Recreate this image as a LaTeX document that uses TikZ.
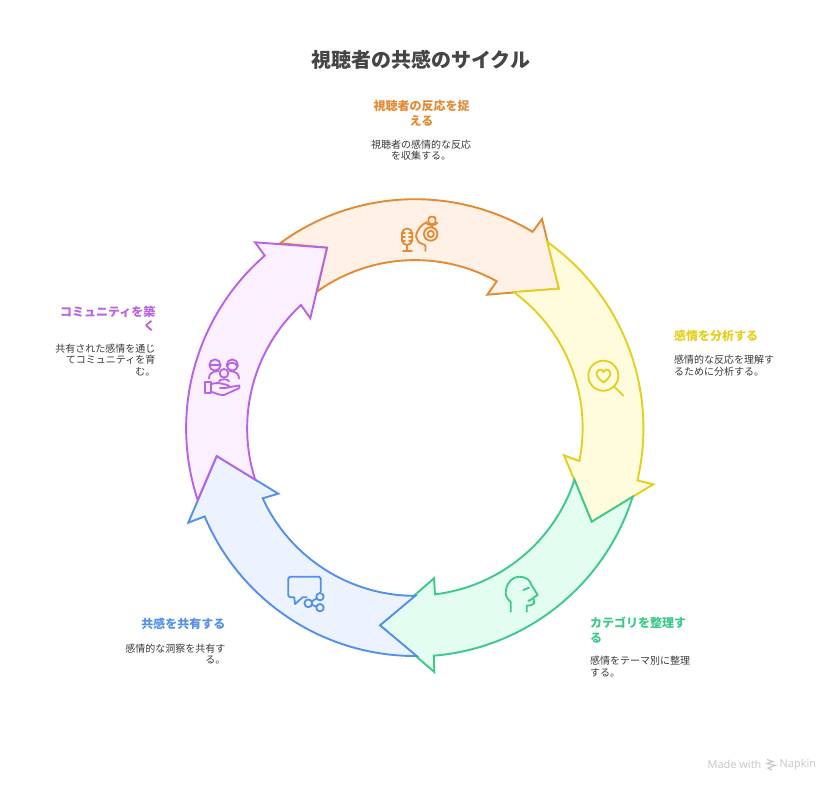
\documentclass[tikz,border=0pt]{standalone}
\usepackage{fontspec}
\setmainfont{Noto Sans}
\newfontfamily\cjk{Noto Sans CJK JP}
\definecolor{oS}{HTML}{E38A33}\definecolor{oF}{HTML}{FFF1E5}
\definecolor{yS}{HTML}{E5CF1C}\definecolor{yF}{HTML}{FFFBDD}
\definecolor{gS}{HTML}{3DC98A}\definecolor{gF}{HTML}{E3FDF0}
\definecolor{bS}{HTML}{5290EA}\definecolor{bF}{HTML}{ECF3FF}
\definecolor{pS}{HTML}{B962E6}\definecolor{pF}{HTML}{FAF0FF}
\definecolor{ink}{HTML}{3A3A3A}
\definecolor{titleink}{HTML}{454545}
\definecolor{wmgray}{HTML}{C9C9C9}
\tikzset{
  band/.style={line width=1.9pt,line join=miter,miter limit=10},
  icon/.style={line width=1.8pt,line cap=round,line join=round},
  headline/.style={inner sep=0pt,font={\cjk\bfseries\fontsize{12}{14.5}\selectfont}},
  blurb/.style={inner sep=0pt,text=ink,font={\cjk\fontsize{10}{11.7}\selectfont}},
}
\begin{document}
\begin{tikzpicture}[x=1pt,y=-1pt]
\useasboundingbox (0,0) rectangle (840,792);
\fill[white] (0,0) rectangle (840,792);
% bands
\draw[band,draw=oS,fill=oF] (280,243.3) arc[start angle=-126.2,end angle=-59,radius=228.5] -- (542,219) -- (559,288.7) -- (487.3,294.7) -- (496.7,281.3) arc[start angle=-60.9,end angle=-125.7,radius=168] -- (327,247.7) -- cycle;
\draw[band,draw=yS,fill=yF] (547.3,242) arc[start angle=-54.6,end angle=13.2,radius=228.5] -- (653.3,484.3) -- (591.7,521.7) -- (564,455.3) -- (579.3,461) arc[start angle=11.4,end angle=-53.9,radius=168] -- (559,288.7) -- cycle;
\draw[band,draw=gS,fill=gF] (632.7,496.7) arc[start angle=17.5,end angle=85.2,radius=228.5] -- (434.3,672) -- (380,625.3) -- (434,578.3) -- (435,594.3) arc[start angle=83.1,end angle=18.1,radius=168] -- (591.7,521.7) -- cycle;
\draw[band,draw=bS,fill=bF] (416.7,656) arc[start angle=89.6,end angle=157.1,radius=228.5] -- (188.3,522.7) -- (216.7,456) -- (278.3,493.7) -- (262.7,498.3) arc[start angle=155.2,end angle=90,radius=168] -- (380,625.3) -- cycle;
\draw[band,draw=pS,fill=pF] (197.7,500) arc[start angle=161.7,end angle=229,radius=228.7] -- (255,242.3) -- (327,247.7) -- (310.3,318.3) -- (301,305) arc[start angle=227.2,end angle=162.2,radius=168] -- (216.7,456) -- cycle;
% mic icon
\begin{scope}[icon,draw=oS]
\draw[rounded corners=5pt] (402,228.5) rectangle (412.2,245);
\draw (402,233) -- (405,233) (402,237) -- (405,237) (402,241) -- (405,241) (412.2,233) -- (409,233) (412.2,237) -- (409,237) (412.2,241) -- (409,241);
\draw (407,245) -- (407,250.7) (403,250.7) -- (412,250.7);
\draw (425.5,251) -- (425.5,246) .. controls (425.5,244) and (419,244) .. (418,241) -- (416,236.5) .. controls (417,229) and (421,225) .. (427,222);
\draw (430.7,234) circle[radius=6.7];
\draw (430.7,234) circle[radius=3.2];
\draw[rounded corners=2.5pt] (428.5,216.7) rectangle (435.5,224);
\draw (425.5,222.5) .. controls (428,226) and (436,226) .. (437.5,222.5);
\draw (431.8,226) -- (431.8,227.3);
\end{scope}
% magnifier
\begin{scope}[icon,draw=yS]
\draw (603.3,375.7) circle[radius=15];
\draw (614.3,386.7) -- (623.3,395.7);
\draw (603.5,382.5) .. controls (597,377.5) and (596,375) .. (597,372) .. controls (598.5,368.5) and (602.5,369) .. (603.5,372) .. controls (604.5,369) and (608.5,368.5) .. (610,372) .. controls (611,375) and (610,377.5) .. (603.5,382.5) -- cycle;
\end{scope}
% head
\begin{scope}[icon,draw=gS]
\draw (510.7,611.7) -- (510.7,602) .. controls (506,598) and (505,594) .. (506,590) .. controls (507,582) and (513,576.7) .. (519,576.7) .. controls (526,576.7) and (530,580) .. (531.5,585) -- (537.7,595) -- (533.3,597.7) -- (534.3,603) .. controls (533,605.5) and (530,605.5) .. (526.7,605.7) -- (526.7,611.7);
\draw (523.3,590) -- (529,587.7);
\draw (528.3,601) -- (533.3,598.3);
\end{scope}
% bubble and share
\begin{scope}[icon,draw=bS]
\draw (306.5,597.3) -- (302.7,597.3) -- (295,604) -- (294.3,597.3) -- (290,597.3) .. controls (289,597.3) and (288.3,596.6) .. (288.3,595.6) -- (288.3,578.5) .. controls (288.3,577.5) and (289,576.7) .. (290,576.7) -- (319,576.7) .. controls (320,576.7) and (320.7,577.5) .. (320.7,578.5) -- (320.7,591.5);
\draw (308.3,603.3) circle[radius=3.9];
\draw (320,596.7) circle[radius=3.7];
\draw (320,607.7) circle[radius=3.7];
\draw (311.6,601.4) -- (316.7,598.4) (311.8,604.8) -- (316.4,606.6);
\end{scope}
% community
\begin{scope}[icon,draw=pS]
\draw (215,365) circle[radius=5.6];
\draw (232.3,365) circle[radius=5.6];
\draw (224,373.3) circle[radius=4.3];
\draw (209.7,365) -- (220.3,365);
\draw (227,366) .. controls (230,361.5) and (234,361.5) .. (237.6,366);
\draw (209,378.5) .. controls (209,373.5) and (212,371.5) .. (218.7,371);
\draw (239,378.5) .. controls (239,373.5) and (236,371.5) .. (229.5,371);
\draw (219,381.5) .. controls (219,378.5) and (229,378.5) .. (229,381.5);
\draw (205,381.7) rectangle (210.7,393.3);
\draw (210.7,384.3) .. controls (216,382) and (221,383) .. (228.5,385.5) .. controls (230.5,387) and (228,388.5) .. (220,388) (227,387.5) -- (239.3,385.5) .. controls (240,387) and (239.5,388) .. (238,388.7) -- (224,395) .. controls (219,395.5) and (215,392.5) .. (210.7,391.7);
\end{scope}
% texts
\node[inner sep=0pt,text=titleink,font={\cjk\bfseries\fontsize{20}{24}\selectfont}] (title) at (420.5,60) {視聴者の共感のサイクル};
\node[headline,text=oS,align=center,anchor=north] (h1) at (421.5,100.5) {視聴者の反応を捉\\える};
\node[blurb,align=center,anchor=north] (d1) at (421,139.5) {視聴者の感情的な反応\\を収集する。};
\node[headline,text=yS,align=left,anchor=north west] (h2) at (674,329.5) {感情を分析する};
\node[blurb,align=left,anchor=north west] (d2) at (674,355.3) {感情的な反応を理解す\\るために分析する。};
\node[headline,text=gS,align=left,anchor=north west] (h3) at (590,617.2) {カテゴリを整理す\\る};
\node[blurb,align=left,anchor=north west] (d3) at (590,656) {感情をテーマ別に整理\\する。};
\node[headline,text=bS,align=right,anchor=north east] (h4) at (225.5,618) {共感を共有する};
\node[blurb,align=right,anchor=north east] (d4) at (225.5,643.5) {感情的な洞察を共有す\\る。};
\node[headline,text=pS,align=right,anchor=north east] (h5) at (155.5,305.5) {コミュニティを築\\く};
\node[blurb,align=right,anchor=north east] (d5) at (155.5,343.5) {共有された感情を通じ\\てコミュニティを育\\む。};
% watermark
\node[inner sep=0pt,text=wmgray,anchor=west,font=\fontsize{10.9}{12}\selectfont] (m1) at (707.5,764.5) {Made with};
\node[inner sep=0pt,text=wmgray,anchor=west,font=\fontsize{10.9}{12}\selectfont] (m2) at (779.5,764.5) {Napkin};
\draw[wmgray,line width=1.2pt] (767,759.5) -- (773,761.5) -- (767,763.5) -- (775,765.5) -- (768,768) -- (772,770);
\end{tikzpicture}
\end{document}
